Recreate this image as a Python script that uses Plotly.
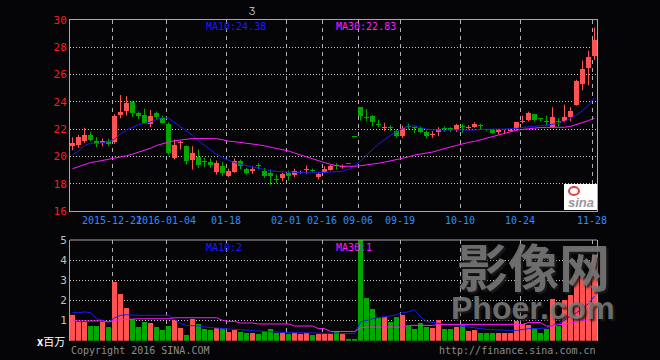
import plotly.graph_objects as go

# ---------------- data ----------------
opens = [20.8, 20.87, 21.16, 21.6, 21.16, 21.02, 21.1, 21.07, 23.05, 23.3,
         24.0, 23.15, 23.07, 22.39, 23.18, 22.85, 22.4, 19.9, 21.0, 20.75,
         19.77, 19.94, 19.7, 19.6, 18.87, 19.28, 18.58, 18.87, 19.66, 19.05,
         18.94, 19.4, 18.94, 18.8, 18.3, 18.42, 18.8, 18.62, 18.82, 19.0,
         19.0, 18.47, 18.87, 19.04, 19.38, 19.22, 19.5, 21.46, 23.6, 22.9,
         22.95, 22.4, 22.12, 22.19, 21.9, 21.5, 22.18, 22.12, 22.1, 21.82,
         21.6, 21.8, 22.04, 22.04, 21.92, 22.22, 22.12, 22.17, 22.24, 22.0,
         21.97, 21.8, 21.83, 21.9, 22.05, 22.55, 22.67, 23.1, 22.75, 22.6,
         22.13, 22.6, 22.6, 22.86, 23.8, 25.32, 26.5, 27.35]
closes = [21.0, 21.41, 21.6, 21.24, 20.92, 21.16, 20.9, 23.0, 23.28, 23.9,
          23.15, 22.98, 22.44, 23.0, 22.92, 22.48, 20.27, 20.87, 21.08, 19.65,
          20.26, 19.4, 19.6, 19.35, 19.53, 18.8, 18.92, 19.7, 19.3, 18.78,
          19.1, 19.32, 18.57, 18.55, 18.26, 18.72, 18.55, 18.96, 18.88, 19.04,
          18.94, 18.72, 19.1, 19.3, 19.33, 19.28, 19.46, 21.43, 23.0, 22.85,
          22.53, 22.34, 22.16, 22.12, 21.53, 22.1, 22.14, 22.07, 21.8, 21.48,
          21.63, 22.04, 22.0, 22.0, 22.29, 22.17, 22.17, 22.4, 22.2, 21.97,
          21.73, 21.97, 21.87, 21.95, 22.5, 22.58, 23.15, 22.68, 22.72, 22.55,
          22.86, 22.55, 22.9, 23.3, 25.55, 26.42, 27.3, 28.55]
highs = [21.4, 21.6, 22.1, 21.8, 21.4, 21.3, 21.3, 23.1, 24.5, 24.42,
         24.08, 23.3, 23.5, 23.4, 23.3, 23.0, 22.5, 21.24, 21.15, 20.8,
         20.75, 20.5, 19.9, 19.85, 19.7, 19.6, 19.1, 19.85, 19.77, 19.16,
         19.28, 19.5, 19.16, 19.04, 18.67, 18.8, 18.96, 19.1, 18.96, 19.33,
         19.1, 18.87, 19.28, 19.38, 19.5, 19.4, 19.5, 21.46, 23.6, 23.47,
         23.05, 22.7, 22.46, 22.26, 21.97, 22.26, 22.4, 22.2, 22.2, 21.9,
         21.85, 22.14, 22.2, 22.14, 22.39, 22.39, 22.29, 22.5, 22.39, 22.02,
         22.02, 22.02, 21.97, 22.0, 22.52, 22.98, 23.28, 23.1, 22.79, 22.98,
         23.6, 22.8, 23.79, 23.6, 25.62, 27.03, 27.75, 29.45]
lows = [20.45, 20.63, 21.0, 21.1, 20.67, 20.75, 20.75, 20.92, 22.8, 23.0,
        22.9, 22.75, 22.4, 22.15, 22.7, 22.4, 20.1, 19.77, 20.5, 19.4,
        19.04, 19.16, 19.2, 19.16, 18.67, 18.55, 18.47, 18.8, 19.04, 18.67,
        18.72, 19.04, 18.43, 17.92, 18.06, 18.18, 18.23, 18.47, 18.72, 18.72,
        18.85, 18.3, 18.8, 18.96, 19.04, 19.1, 19.46, 21.43, 22.63, 22.58,
        22.2, 22.14, 21.85, 21.85, 21.36, 21.36, 21.97, 21.7, 21.7, 21.3,
        21.36, 21.48, 21.8, 21.8, 21.8, 21.73, 22.0, 22.1, 21.97, 21.85,
        21.65, 21.6, 21.65, 21.8, 21.9, 22.42, 22.57, 22.57, 22.57, 22.25,
        22.08, 22.2, 22.5, 22.57, 23.72, 24.85, 25.2, 27.07]
ma10 = [20.12, 20.4, 20.78, 20.97, 20.94, 21.0, 21.08, 21.27, 21.65, 21.92,
        22.15, 22.33, 22.42, 22.52, 22.7, 22.85, 22.8, 22.5, 22.2, 21.9,
        21.55, 21.15, 20.8, 20.45, 20.15, 19.9, 19.7, 19.55, 19.42, 19.33,
        19.22, 19.12, 19.02, 18.95, 18.9, 18.87, 18.85, 18.83, 18.82, 18.8,
        18.8, 18.8, 18.82, 18.85, 18.88, 18.92, 19.05, 19.3, 19.65, 20.1,
        20.5, 20.9, 21.22, 21.55, 21.8, 22.05, 22.22, 22.25, 22.12, 22.0,
        21.95, 21.93, 21.93, 21.95, 21.95, 21.9, 21.9, 21.93, 21.98, 22.0,
        22.0, 22.0, 22.0, 22.02, 22.06, 22.12, 22.18, 22.22, 22.26, 22.3,
        22.35, 22.42, 22.57, 22.77, 23.03, 23.35, 23.75, 24.3]
ma30 = [19.1, 19.25, 19.4, 19.55, 19.62, 19.7, 19.77, 19.84, 19.95, 20.05,
        20.17, 20.3, 20.45, 20.6, 20.8, 20.95, 21.05, 21.15, 21.22, 21.28,
        21.31, 21.31, 21.31, 21.31, 21.3, 21.22, 21.12, 21.08, 21.03, 20.99,
        20.93, 20.85, 20.77, 20.68, 20.6, 20.48, 20.4, 20.25, 20.1, 19.95,
        19.82, 19.68, 19.55, 19.42, 19.32, 19.28, 19.27, 19.28, 19.32, 19.37,
        19.42, 19.5, 19.58, 19.67, 19.76, 19.86, 19.96, 20.1, 20.16, 20.24,
        20.32, 20.45, 20.6, 20.7, 20.8, 20.92, 21.03, 21.1, 21.22, 21.35,
        21.45, 21.55, 21.68, 21.8, 21.92, 21.98, 22.04, 22.1, 22.12, 22.13,
        22.13, 22.13, 22.14, 22.2, 22.33, 22.47, 22.63, 22.8]
volume = [1.28, 0.93, 0.93, 0.73, 0.73, 0.93, 0.68, 2.92, 2.3, 1.63,
          1.09, 0.68, 0.93, 0.9, 0.68, 0.51, 0.73, 1.01, 0.63, 0.27,
          1.06, 0.81, 0.56, 0.51, 0.63, 0.63, 0.43, 0.55, 0.43, 0.4,
          0.38, 0.32, 0.46, 0.56, 0.38, 0.38, 0.32, 0.4, 0.35, 0.4,
          0.27, 0.35, 0.35, 0.35, 0.46, 0.35, 0.07, 0.07, 5.3, 2.12,
          1.56, 1.13, 1.18, 0.93, 1.18, 1.26, 0.73, 0.56, 0.88, 0.68,
          0.65, 1.01, 0.6, 0.56, 0.68, 0.8, 0.46, 0.51, 0.4, 0.4,
          0.4, 0.38, 0.4, 0.4, 0.96, 0.85, 0.76, 0.65, 0.38, 0.56,
          2.06, 0.73, 2.0, 2.26, 3.28, 3.17, 3.08, 4.25]
vol_ma10 = [1.39, 1.39, 1.43, 1.39, 1.09, 1.01, 0.93, 1.13, 1.26, 1.29,
            1.26, 1.26, 1.26, 1.26, 1.25, 1.23, 1.26, 1.06, 0.85, 0.76,
            0.76, 0.73, 0.68, 0.65, 0.65, 0.6, 0.56, 0.56, 0.55, 0.51,
            0.5, 0.48, 0.46, 0.46, 0.43, 0.41, 0.4, 0.4, 0.4, 0.4,
            0.4, 0.38, 0.36, 0.38, 0.38, 0.36, 0.35, 0.35, 0.93, 1.01,
            1.09, 1.16, 1.18, 1.23, 1.29, 1.39, 1.43, 1.54, 1.18, 0.96,
            0.9, 0.85, 0.81, 0.8, 0.76, 0.73, 0.68, 0.65, 0.58, 0.56,
            0.55, 0.53, 0.51, 0.51, 0.51, 0.56, 0.6, 0.6, 0.62, 0.63,
            0.76, 0.85, 1.01, 1.23, 1.39, 1.59, 1.84, 2.22]
vol_ma30 = [0.98, 0.98, 0.98, 0.98, 0.98, 0.98, 0.93, 1.01, 1.04, 1.06,
            1.09, 1.09, 1.09, 1.09, 1.09, 1.09, 1.09, 1.14, 1.14, 1.14,
            1.14, 1.14, 1.14, 1.14, 1.14, 1.01, 0.96, 0.96, 0.88, 0.88,
            0.88, 0.83, 0.83, 0.83, 0.83, 0.83, 0.83, 0.73, 0.73, 0.73,
            0.73, 0.6, 0.6, 0.46, 0.46, 0.46, 0.46, 0.46, 0.63, 0.68,
            0.68, 0.68, 0.68, 0.68, 0.68, 0.68, 0.76, 0.76, 0.76, 0.76,
            0.76, 0.81, 0.81, 0.81, 0.81, 0.81, 0.81, 0.81, 0.81, 0.81,
            0.81, 0.81, 0.81, 0.81, 0.81, 0.81, 0.9, 0.9, 0.9, 0.73,
            0.73, 0.8, 0.81, 0.88, 0.93, 0.96, 1.04, 1.18]
tick_index = [7, 16, 26, 36, 42, 48, 55, 65, 75, 87]
tick_labels = ["2015-12-21", "2016-01-04", "01-18", "02-01", "02-16",
               "09-06", "09-19", "10-10", "10-24", "11-28"]
price_ticks = [16, 18, 20, 22, 24, 26, 28, 30]
volume_ticks = [1, 2, 3, 4, 5]

# ---------------- figure ----------------
W, H = 660, 360


def px(x):
    return x / W


def py(y):
    return 1 - y / H


RED = "#ff5252"
GREEN = "#00a800"
BLUE = "#1a1aff"
MAG = "#ff1aff"
MONO = "DejaVu Sans Mono"

n = len(opens)
idx = list(range(n))
up = [c >= o for o, c in zip(opens, closes)]

fig = go.Figure()

for flag, color in ((True, RED), (False, GREEN)):
    xs = [i for i in idx if up[i] == flag]
    wx, wy = [], []
    for i in xs:
        wx += [i, i, None]
        wy += [lows[i], highs[i], None]
    fig.add_trace(go.Scatter(x=wx, y=wy, mode="lines", line=dict(color=color, width=1),
                             xaxis="x", yaxis="y", hoverinfo="skip", showlegend=False))
    fig.add_trace(go.Bar(x=xs, y=[max(abs(closes[i] - opens[i]), 0.07) for i in xs],
                         base=[min(opens[i], closes[i]) for i in xs], width=0.8,
                         marker=dict(color=color, line=dict(width=0)),
                         xaxis="x", yaxis="y", hoverinfo="skip", showlegend=False))
    fig.add_trace(go.Bar(x=xs, y=[volume[i] for i in xs], width=0.8,
                         marker=dict(color=color, line=dict(width=0)),
                         xaxis="x2", yaxis="y2", hoverinfo="skip", showlegend=False))

fig.add_trace(go.Scatter(x=idx, y=ma10, mode="lines", line=dict(color=BLUE, width=1),
                         xaxis="x", yaxis="y", showlegend=False, hoverinfo="skip"))
fig.add_trace(go.Scatter(x=idx, y=ma30, mode="lines", line=dict(color=MAG, width=1),
                         xaxis="x", yaxis="y", showlegend=False, hoverinfo="skip"))
fig.add_trace(go.Scatter(x=idx, y=vol_ma10, mode="lines", line=dict(color=BLUE, width=1),
                         xaxis="x2", yaxis="y2", showlegend=False, hoverinfo="skip"))
fig.add_trace(go.Scatter(x=idx, y=vol_ma30, mode="lines", line=dict(color=MAG, width=1),
                         xaxis="x2", yaxis="y2", showlegend=False, hoverinfo="skip"))

xr = [-0.417, n - 1 + 0.417]
tickpos = [t - 0.417 for t in tick_index]
common_x = dict(domain=[px(70), px(597)], range=xr, tickmode="array", tickvals=tickpos,
                showgrid=True, gridcolor="#b0b0b0", griddash="4px,4px", gridwidth=1,
                zeroline=False, ticks="", tickangle=0, fixedrange=True, automargin=False)

fig.update_layout(
    template="none",
    width=W, height=H, margin=dict(l=0, r=0, t=0, b=0, pad=0), autosize=False,
    paper_bgcolor="#050508", plot_bgcolor="#050508",
    barmode="overlay", bargap=0, showlegend=False,
    font=dict(family=MONO, size=10),
    xaxis=dict(common_x, anchor="y", ticktext=tick_labels,
               tickfont=dict(color="#2a8cff", size=10, family=MONO),
               showline=True, mirror=True, linecolor="#a8a8a8", linewidth=1),
    yaxis=dict(domain=[py(211), py(20)], range=[16, 30], tickmode="array",
               tickvals=price_ticks, tickfont=dict(color="#ff1a1a", size=11, family=MONO),
               showgrid=True, gridcolor="#c8c8c8", griddash="1px,2px", zeroline=False,
               showline=True, mirror=True, linecolor="#a8a8a8", linewidth=1, ticks="",
               anchor="x", fixedrange=True, automargin=False),
    xaxis2=dict(common_x, anchor="y2", ticktext=[""] * len(tickpos), showticklabels=False,
                showline=False),
    yaxis2=dict(domain=[py(340.7), py(240)], range=[0, 5], tickmode="array",
                tickvals=volume_ticks, tickfont=dict(color="#c0c0c0", size=11, family=MONO),
                showgrid=True, gridcolor="#c8c8c8", griddash="1px,2px", zeroline=False,
                showline=True, mirror=True, linecolor="#a8a8a8", linewidth=1, ticks="",
                anchor="x2", fixedrange=True, automargin=False),
)

shapes = [
    dict(type="line", xref="paper", yref="paper", x0=px(70), x1=px(597),
         y0=py(240), y1=py(240), line=dict(color="#a8a8a8", width=1)),
    dict(type="rect", xref="paper", yref="paper", x0=px(564), x1=px(597),
         y0=py(210), y1=py(184), fillcolor="#ffffff", line=dict(width=0)),
    dict(type="circle", xref="paper", yref="paper", x0=px(569), x1=px(579),
         y0=py(195), y1=py(187), fillcolor="rgba(0,0,0,0)", line=dict(color="#e04040", width=2)),
]
fig.update_layout(shapes=shapes)


def ann(text, x, y, color, size=10, xanchor="left", family=MONO, **kw):
    fig.add_annotation(text=text, x=px(x), y=py(y), xref="paper", yref="paper",
                       xanchor=xanchor, yanchor="middle", showarrow=False,
                       font=dict(color=color, size=size, family=family), **kw)


ann("MA10:24.38", 204, 27, BLUE)
ann("MA30:22.83", 334, 27, MAG)
ann("MA10:2", 204, 247, BLUE)
ann("MA30:1", 334, 247, MAG)
ann("Ʒ", 247, 12, "#b0b0b0", size=10)
ann("<b>x</b>百万", 67, 341, "#ffffff", size=11, xanchor="right", family="Noto Sans CJK SC")
ann("Copyright 2016 SINA.COM", 69, 350, "#8c8c8c")
ann("http://finance.sina.com.cn", 598, 350, "#8c8c8c", xanchor="right")
ann("<b><i>sina</i></b>", 581, 202, "#9a9a9a", size=13, xanchor="center", family="Liberation Sans")

fig.add_annotation(text="<b>影像网</b>", x=px(533), y=py(265), xref="paper", yref="paper",
                   xanchor="center", yanchor="middle", showarrow=False,
                   font=dict(color="rgba(125,125,125,0.85)", size=51, family="Noto Sans CJK SC",
                             shadow="2px 2px 2px #202020"))
fig.add_annotation(text="<b>Phoer.com</b>", x=px(533), y=py(308), xref="paper", yref="paper",
                   xanchor="center", yanchor="middle", showarrow=False,
                   font=dict(color="rgba(125,125,125,0.85)", size=32, family="Liberation Sans",
                             shadow="2px 2px 2px #202020"))

fig.write_html(
    "out.html",
    config={"displayModeBar": False, "staticPlot": True},
    post_script="document.body.style.margin='0';document.body.style.padding='0';"
                "document.body.style.background='#050508';",
)
